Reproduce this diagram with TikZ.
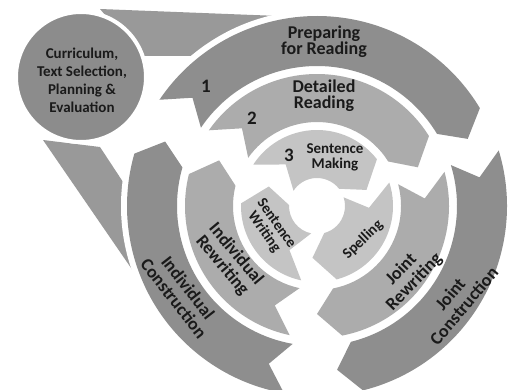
\documentclass[tikz,border=0pt]{standalone}
\usepackage{fontspec}
\setmainfont{Carlito}
\usetikzlibrary{calc}
\definecolor{outerc}{HTML}{8E8E8E}
\definecolor{midc}{HTML}{ACACAC}
\definecolor{innerc}{HTML}{C4C4C4}
\definecolor{funnelc}{HTML}{999999}
\definecolor{circc}{HTML}{8C8C8C}
\definecolor{txt}{HTML}{1A1A1A}
\newcommand\ringseg[6]{%
  \fill[#6] ($(C)+(#3:#2)$) arc[start angle=#3, end angle=#4, radius=#2pt]
    -- ($(C)+({#4-#5}:{(#1+#2)/2})$)
    -- ($(C)+(#4:#1)$) arc[start angle=#4, end angle=#3, radius=#1pt]
    -- ($(C)+({#3-#5}:{(#1+#2)/2})$) -- cycle;}
\tikzset{
  biglbl/.style={font=\bfseries\fontsize{18}{16}\selectfont, text=txt, align=center, inner sep=0pt},
  rotlbl/.style={font=\bfseries\fontsize{18}{18}\selectfont, text=txt, align=center, inner sep=0pt},
  smalllbl/.style={font=\bfseries\fontsize{15}{15}\selectfont, text=txt, align=center, inner sep=0pt},
  numlbl/.style={font=\bfseries\fontsize{19}{19}\selectfont, text=txt, inner sep=0pt},
  circlbl/.style={font=\bfseries\fontsize{15}{18}\selectfont, text=txt, align=center, inner sep=0pt}
}
\begin{document}
\begin{tikzpicture}[x=1pt,y=1pt]
\useasboundingbox (0,0) rectangle (510,389);
\fill[white] (0,0) rectangle (510,389);
\coordinate (C) at (317,183);
% funnel wedges
\fill[funnelc] (100,380) -- (330,371) -- (330,333) -- (140,333) -- cycle;
\fill[funnelc] (43,249) -- (162,76) -- (175,128) -- (100,242) -- cycle;
\fill[white] (C) circle (196);
% outer ring
\ringseg{140}{190}{146}{31}{7}{outerc}
\ringseg{140}{190}{17}{-76}{7}{outerc}
\ringseg{140}{190}{260}{164}{7}{outerc}
% middle ring
\ringseg{84}{132}{145}{32}{11}{midc}
\ringseg{84}{132}{15}{-79}{11}{midc}
\ringseg{84}{132}{258}{166}{11}{midc}
% inner ring
\ringseg{28}{76}{147}{38}{20}{innerc}
\ringseg{28}{76}{18}{-75}{20}{innerc}
\ringseg{28}{76}{258}{178}{20}{innerc}
% circle
\fill[circc] (81,312) circle (64);
\draw[white, line width=4] (81,312) circle (65);
\node[circlbl] (plan) at (82,309) {Curriculum,\\Text Selection,\\Planning \&\\Evaluation};
% labels
\node[biglbl] (prep) at (324,347) {Preparing\\for Reading};
\node[biglbl] (detr) at (324,293) {Detailed\\Reading};
\node[smalllbl] (senm) at (335,232) {Sentence\\Making};
\node[numlbl] (n1) at (206,303) {1};
\node[numlbl] (n2) at (252,271) {2};
\node[numlbl] (n3) at (289,234) {3};
\node[rotlbl, rotate=-52] (indc) at (181,96) {Individual\\Construction};
\node[rotlbl, rotate=-50] (indr) at (229,129) {Individual\\Rewriting};
\node[smalllbl, rotate=-55] (senw) at (270,161) {Sentence\\Writing};
\node[smalllbl, rotate=44] (spel) at (363,149) {Spelling};
\node[rotlbl, rotate=46] (jrew) at (408,113) {Joint\\Rewriting};
\node[rotlbl, rotate=50] (jcon) at (457,89) {Joint\\Construction};
\end{tikzpicture}
\end{document}
